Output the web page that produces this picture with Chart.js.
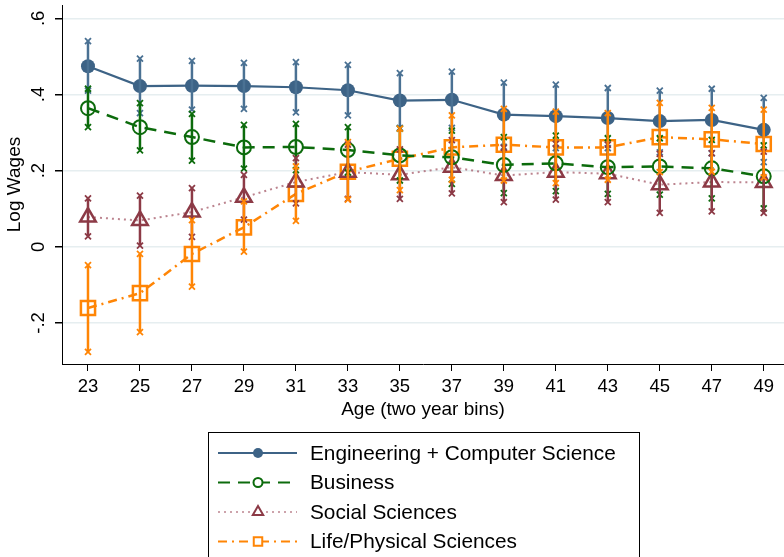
<!DOCTYPE html>
<html>
<head>
<meta charset="utf-8">
<script src="https://cdn.jsdelivr.net/npm/chart.js@4"></script>
<style>
  html, body { margin: 0; padding: 0; background: #fff; }
  #wrap { width: 784px; height: 557px; }
</style>
</head>
<body>
<div id="wrap"><canvas id="chart" width="784" height="557"></canvas></div>
<script>
const ages = [23, 25, 27, 29, 31, 33, 35, 37, 39, 41, 43, 45, 47, 49];
const yTickValues = [-0.2, 0, 0.2, 0.4, 0.6];
const yTickLabels = ['-.2', '0', '.2', '.4', '.6'];

const seriesNames = ['Engineering + Computer Science', 'Business', 'Social Sciences', 'Life/Physical Sciences'];

const engMean = [0.474, 0.422, 0.423, 0.422, 0.419, 0.411, 0.384, 0.386, 0.347, 0.343, 0.338, 0.330, 0.333, 0.307];
const engLow  = [0.410, 0.351, 0.360, 0.362, 0.353, 0.345, 0.312, 0.312, 0.262, 0.259, 0.259, 0.248, 0.245, 0.222];
const engHigh = [0.540, 0.494, 0.488, 0.483, 0.485, 0.478, 0.456, 0.460, 0.431, 0.426, 0.417, 0.410, 0.415, 0.391];

const busMean = [0.364, 0.314, 0.288, 0.261, 0.262, 0.254, 0.240, 0.235, 0.215, 0.219, 0.209, 0.211, 0.206, 0.185];
const busLow  = [0.314, 0.253, 0.226, 0.205, 0.201, 0.195, 0.174, 0.165, 0.141, 0.146, 0.139, 0.137, 0.127, 0.101];
const busHigh = [0.415, 0.377, 0.349, 0.320, 0.323, 0.314, 0.310, 0.305, 0.288, 0.292, 0.285, 0.285, 0.281, 0.266];

const socMean = [0.078, 0.069, 0.091, 0.130, 0.170, 0.196, 0.189, 0.209, 0.187, 0.196, 0.192, 0.163, 0.170, 0.169];
const socLow  = [0.027, 0.003, 0.026, 0.071, 0.114, 0.126, 0.126, 0.140, 0.117, 0.124, 0.117, 0.089, 0.093, 0.089];
const socHigh = [0.127, 0.134, 0.154, 0.189, 0.233, 0.268, 0.256, 0.280, 0.260, 0.270, 0.268, 0.244, 0.246, 0.250];

const lifMean = [-0.161, -0.122, -0.019, 0.051, 0.139, 0.197, 0.231, 0.261, 0.268, 0.261, 0.261, 0.288, 0.282, 0.270];
const lifLow  = [-0.276, -0.224, -0.105, -0.013, 0.068, 0.124, 0.149, 0.176, 0.174, 0.167, 0.176, 0.196, 0.197, 0.182];
const lifHigh = [-0.048, -0.019, 0.070, 0.119, 0.211, 0.275, 0.310, 0.345, 0.362, 0.355, 0.351, 0.378, 0.365, 0.360];

const colors = ['#3d6386', '#0c6b0c', '#8c3a46', '#ff8505'];
const barColors = ['#4a7193', '#0c6b0c', '#8c3a46', '#ff8505'];
const lows = [engLow, busLow, socLow, lifLow];
const highs = [engHigh, busHigh, socHigh, lifHigh];

const FONT = "'Liberation Sans', Arial, Helvetica, sans-serif";

const datasets = [
  {
    label: seriesNames[0],
    data: ages.map((a, i) => ({ x: a, y: engMean[i] })),
    borderColor: colors[0], backgroundColor: colors[0],
    borderWidth: 2.2, pointStyle: 'circle', pointRadius: 7,
    pointBackgroundColor: colors[0], pointBorderWidth: 0
  },
  {
    label: seriesNames[1],
    data: ages.map((a, i) => ({ x: a, y: busMean[i] })),
    borderColor: colors[1], backgroundColor: 'rgba(0,0,0,0)',
    borderWidth: 2.5, borderDash: [12, 8], pointStyle: 'circle', pointRadius: 7,
    pointBorderColor: colors[1], pointBackgroundColor: 'rgba(0,0,0,0)', pointBorderWidth: 2
  },
  {
    label: seriesNames[2],
    data: ages.map((a, i) => ({ x: a, y: socMean[i] })),
    borderColor: 'rgba(160,80,95,0.7)', backgroundColor: 'rgba(0,0,0,0)',
    borderWidth: 2, borderDash: [2, 4], pointStyle: 'triangle', pointRadius: 9,
    pointBorderColor: colors[2], pointBackgroundColor: 'rgba(0,0,0,0)', pointBorderWidth: 2.5
  },
  {
    label: seriesNames[3],
    data: ages.map((a, i) => ({ x: a, y: lifMean[i] })),
    borderColor: colors[3], backgroundColor: 'rgba(0,0,0,0)',
    borderWidth: 2.5, borderDash: [9, 5, 2, 5], pointStyle: 'rect', pointRadius: 10,
    pointBorderColor: colors[3], pointBackgroundColor: 'rgba(0,0,0,0)', pointBorderWidth: 2.5
  }
];

// confidence intervals: vertical bars with small x caps
const errorBars = {
  id: 'errorBars',
  afterDatasetsDraw(chart) {
    const ctx = chart.ctx;
    const xs = chart.scales.x, ys = chart.scales.y;
    ctx.save();
    for (let d = 0; d < 4; d++) {
      ctx.strokeStyle = barColors[d];
      for (let j = 0; j < ages.length; j++) {
        const px = xs.getPixelForValue(ages[j]);
        const y1 = ys.getPixelForValue(lows[d][j]);
        const y2 = ys.getPixelForValue(highs[d][j]);
        ctx.lineWidth = 2.5;
        ctx.beginPath();
        ctx.moveTo(px, y1);
        ctx.lineTo(px, y2);
        ctx.stroke();
        ctx.lineWidth = 1.8;
        [y1, y2].forEach(py => {
          ctx.beginPath();
          ctx.moveTo(px - 3, py - 3); ctx.lineTo(px + 3, py + 3);
          ctx.moveTo(px + 3, py - 3); ctx.lineTo(px - 3, py + 3);
          ctx.stroke();
        });
      }
    }
    ctx.restore();
  }
};

// Stata-style vertical y tick labels
const yLabels = {
  id: 'yLabels',
  afterDraw(chart) {
    const ctx = chart.ctx;
    const ys = chart.scales.y;
    ctx.save();
    ctx.fillStyle = '#000';
    ctx.font = '18.5px ' + FONT;
    ctx.textAlign = 'center';
    ctx.textBaseline = 'middle';
    yTickValues.forEach((v, i) => {
      ctx.save();
      ctx.translate(39, ys.getPixelForValue(v));
      ctx.rotate(-Math.PI / 2);
      ctx.fillText(yTickLabels[i], 0, 0);
      ctx.restore();
    });
    ctx.restore();
  }
};

const boxLegend = {
  id: 'boxLegend',
  afterDraw(chart) {
    const ctx = chart.ctx;
    ctx.save();
    ctx.strokeStyle = '#000';
    ctx.lineWidth = 1;
    ctx.strokeRect(208.5, 432.5, 431, 140);
    datasets.forEach((ds, i) => {
      const y = 453 + i * 29.5;
      ctx.strokeStyle = ds.borderColor;
      ctx.lineWidth = i === 2 ? 1.5 : 2;
      ctx.setLineDash(ds.borderDash || []);
      ctx.beginPath();
      ctx.moveTo(218, y);
      ctx.lineTo(297, y);
      ctx.stroke();
      ctx.setLineDash([]);
      ctx.fillStyle = i === 0 ? colors[0] : '#fff';
      ctx.strokeStyle = colors[i];
      ctx.lineWidth = 2;
      Chart.helpers.drawPoint(ctx, {
        pointStyle: ds.pointStyle,
        radius: i === 0 ? 5 : (i === 1 ? 4.5 : 6),
        borderWidth: i === 0 ? 0 : 2
      }, 258, y);
      ctx.fillStyle = '#000';
      ctx.font = '20.8px ' + FONT;
      ctx.textBaseline = 'middle';
      ctx.textAlign = 'left';
      ctx.fillText(ds.label, 310, y + 1);
    });
    ctx.restore();
  }
};

new Chart(document.getElementById('chart'), {
  type: 'line',
  data: { datasets },
  options: {
    responsive: false,
    animation: false,
    layout: { autoPadding: false, padding: { top: 5, right: 0, bottom: 136, left: 0 } },
    plugins: {
      legend: { display: false },
      tooltip: { enabled: false }
    },
    scales: {
      x: {
        type: 'linear',
        min: 22,
        max: 49.78,
        afterBuildTicks: s => { s.ticks = ages.map(v => ({ value: v })); },
        afterFit: s => { s.height = 57; s.paddingLeft = 0; s.paddingRight = 0; },
        grid: { drawOnChartArea: false, tickColor: '#000', tickLength: 7 },
        border: { color: '#000', width: 1 },
        ticks: { color: '#000', font: { family: FONT, size: 18.5 }, padding: 5, maxRotation: 0, autoSkip: false },
        title: { display: true, text: 'Age (two year bins)', color: '#000', font: { family: FONT, size: 19 }, padding: { top: 0, bottom: 0 } }
      },
      y: {
        type: 'linear',
        min: -0.308,
        max: 0.635,
        afterBuildTicks: s => { s.ticks = yTickValues.map(v => ({ value: v })); },
        afterFit: s => { s.width = 62; s.paddingTop = 0; s.paddingBottom = 0; },
        grid: { color: '#e6eef0', lineWidth: 1.5, tickColor: '#000', tickLength: 7 },
        border: { color: '#000', width: 1 },
        ticks: { display: false },
        title: { display: true, text: 'Log Wages', color: '#000', font: { family: FONT, size: 19 }, padding: { top: 3, bottom: 0 } }
      }
    }
  },
  plugins: [errorBars, yLabels, boxLegend]
});
</script>
</body>
</html>
